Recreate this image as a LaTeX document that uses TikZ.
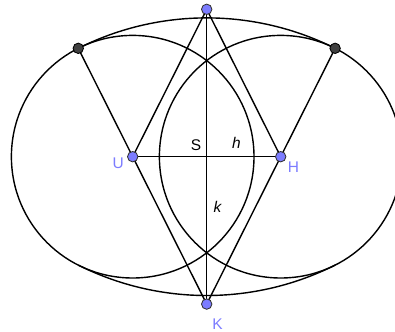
\documentclass[tikz,border=0pt]{standalone}
\usepackage{fontspec}
\setmainfont{Liberation Sans}
\usetikzlibrary{calc}
\definecolor{ptblue}{RGB}{124,124,255}
\definecolor{lblblue}{RGB}{124,124,255}
\definecolor{ptdark}{RGB}{64,64,64}
\tikzset{
  geo/.style={line width=1pt, black},
  bluept/.style={circle, fill=ptblue, draw=black!80, line width=0.6pt, inner sep=0pt, minimum size=7.4pt},
  darkpt/.style={circle, fill=ptdark, draw=black, line width=0.6pt, inner sep=0pt, minimum size=7.4pt},
  blbl/.style={text=lblblue, font=\fontsize{11}{13}\selectfont, inner sep=0pt},
  klbl/.style={text=black, font=\fontsize{11}{13}\selectfont, inner sep=0pt},
}
\begin{document}
\begin{tikzpicture}[x=0.025cm, y=0.025cm]
\fill[white] (0,0) rectangle (395,331);
\useasboundingbox (0,0) rectangle (395,331);
\clip (0,0) rectangle (395,331);
% points
\coordinate (S) at (206.7,174.3);
\coordinate (U) at (132.7,174.3);
\coordinate (H) at (280.7,174.3);
\coordinate (T) at (206.7,321.7);
\coordinate (K) at (206.7,26.9);
\coordinate (D1) at ($(K)+(116.66:286.23)$);
\coordinate (D2) at ($(K)+(63.34:286.23)$);
\coordinate (E1) at ($(T)+(243.34:286.23)$);
% circles
\draw[geo] (U) circle (121.3);
\draw[geo] (H) circle (121.3);
% outer arcs
\draw[geo] (D1) arc (116.66:63.34:286.23);
\draw[geo] (E1) arc (243.34:296.66:286.23);
% segments
\draw[geo] (T) -- (U);
\draw[geo] (T) -- (H);
\draw[geo] (K) -- (D1);
\draw[geo] (K) -- (D2);
\draw[geo] (T) -- (K);
\draw[geo] (U) -- (H);
% dots
\node[bluept] (nU) at (U) {};
\node[bluept] (nH) at (H) {};
\node[bluept] (nT) at (T) {};
\node[bluept] (nK) at (K) {};
\node[darkpt] (nD1) at (D1) {};
\node[darkpt] (nD2) at (D2) {};
% labels
\node[klbl] (lS) at (196,186) {S};
\node[klbl] (lh) at (236.5,187.7) {\itshape h};
\node[klbl] (lk) at (217.5,124.3) {\itshape k};
\node[blbl] (lU) at (118.3,167.7) {U};
\node[blbl] (lH) at (293.5,163.7) {H};
\node[blbl] (lK) at (217.5,7) {K};
\end{tikzpicture}
\end{document}
